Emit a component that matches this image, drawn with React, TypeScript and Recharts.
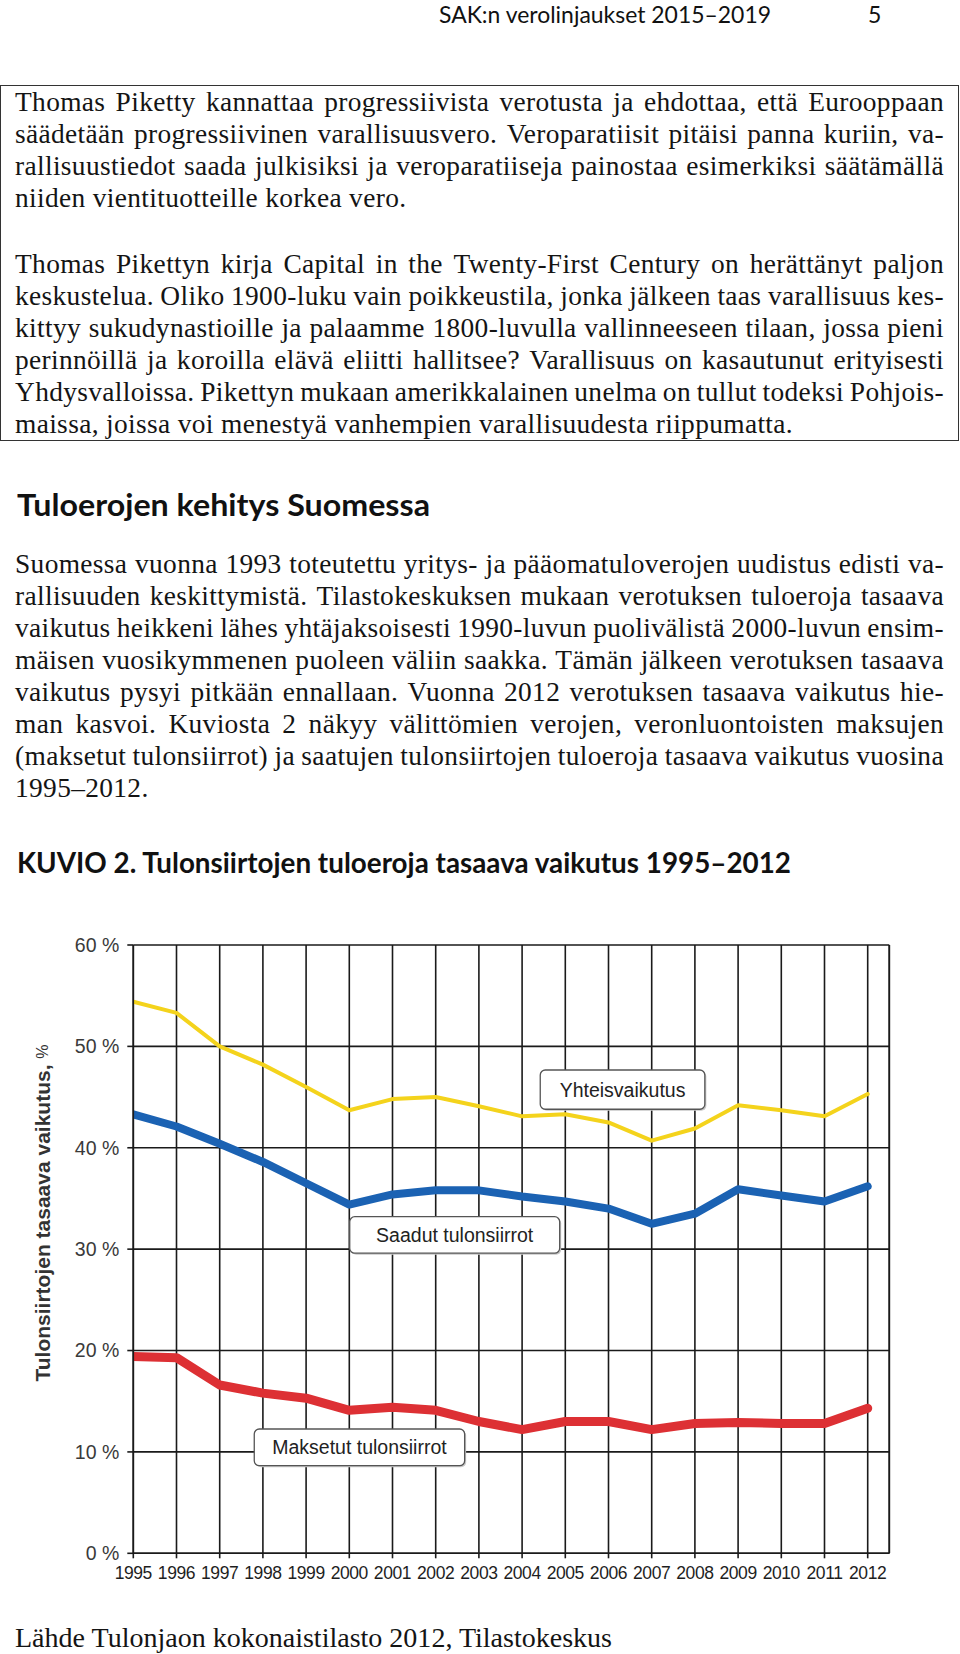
import React, { useLayoutEffect, useRef, useState } from 'react';
import { LineChart, Line, XAxis, YAxis, CartesianGrid, ReferenceLine, ReferenceArea } from 'recharts';

// ---------- data ----------
const years = [1995, 1996, 1997, 1998, 1999, 2000, 2001, 2002, 2003, 2004, 2005, 2006, 2007, 2008, 2009, 2010, 2011, 2012];
const yhteisvaikutus = [54.4, 53.3, 50.0, 48.2, 46.0, 43.7, 44.8, 45.0, 44.1, 43.1, 43.3, 42.5, 40.7, 41.9, 44.2, 43.7, 43.1, 45.3];
const saadutTulonsiirrot = [43.3, 42.1, 40.4, 38.6, 36.5, 34.4, 35.4, 35.8, 35.8, 35.2, 34.7, 34.0, 32.5, 33.5, 35.9, 35.3, 34.7, 36.2];
const maksetutTulonsiirrot = [19.4, 19.3, 16.6, 15.8, 15.3, 14.1, 14.4, 14.1, 13.0, 12.2, 13.0, 13.0, 12.2, 12.8, 12.9, 12.8, 12.8, 14.3];
const yTicks = [0, 10, 20, 30, 40, 50, 60];
const seriesLabels = ['Yhteisvaikutus', 'Saadut tulonsiirrot', 'Maksetut tulonsiirrot'];
const yAxisTitle = 'Tulonsiirtojen tasaava vaikutus, ';

// label boxes in data coordinates
const labelBoxes = [
  { text: seriesLabels[0], x1: 2004.42, x2: 2008.23, y1: 43.8, y2: 47.67 },
  { text: seriesLabels[1], x1: 2000.01, x2: 2004.87, y1: 29.6, y2: 33.2 },
  { text: seriesLabels[2], x1: 1997.8, x2: 2002.67, y1: 8.64, y2: 12.26 },
];

const data = years.map((y, i) => ({
  year: y,
  yht: yhteisvaikutus[i],
  saa: saadutTulonsiirrot[i],
  mak: maksetutTulonsiirrot[i],
}));

// ---------- text ----------
const para1 = [
  'Thomas Piketty kannattaa progressiivista verotusta ja ehdottaa, että Eurooppaan',
  'säädetään progressiivinen varallisuusvero. Veroparatiisit pitäisi panna kuriin, va-',
  'rallisuustiedot saada julkisiksi ja veroparatiiseja painostaa esimerkiksi säätämällä',
  'niiden vientituotteille korkea vero.',
];
const para2 = [
  'Thomas Pikettyn kirja Capital in the Twenty-First Century on herättänyt paljon',
  'keskustelua. Oliko 1900-luku vain poikkeustila, jonka jälkeen taas varallisuus kes-',
  'kittyy sukudynastioille ja palaamme 1800-luvulla vallinneeseen tilaan, jossa pieni',
  'perinnöillä ja koroilla elävä eliitti hallitsee? Varallisuus on kasautunut erityisesti',
  'Yhdysvalloissa. Pikettyn mukaan amerikkalainen unelma on tullut todeksi Pohjois-',
  'maissa, joissa voi menestyä vanhempien varallisuudesta riippumatta.',
];
const para3 = [
  'Suomessa vuonna 1993 toteutettu yritys- ja pääomatuloverojen uudistus edisti va-',
  'rallisuuden keskittymistä. Tilastokeskuksen mukaan verotuksen tuloeroja tasaava',
  'vaikutus heikkeni lähes yhtäjaksoisesti 1990-luvun puolivälistä 2000-luvun ensim-',
  'mäisen vuosikymmenen puoleen väliin saakka. Tämän jälkeen verotuksen tasaava',
  'vaikutus pysyi pitkään ennallaan. Vuonna 2012 verotuksen tasaava vaikutus hie-',
  'man kasvoi. Kuviosta 2 näkyy välittömien verojen, veronluontoisten maksujen',
  '(maksetut tulonsiirrot) ja saatujen tulonsiirtojen tuloeroja tasaava vaikutus vuosina',
  '1995–2012.',
];

const SERIF = '"Liberation Serif", "Times New Roman", serif';
const HEAD = 'Lato, "Open Sans", sans-serif';
const CHARTFONT = '"Liberation Sans", Arial, sans-serif';
const BODY_SIZE = 27.4;
const BODY_LS = 0.35;
const LINE_W = 929;
const LEADING = 32;

function TextLine({ text, baseline, justify }: { text: string; baseline: number; justify: boolean }) {
  const words = text.split(' ');
  const ref = useRef<HTMLDivElement>(null);
  const [ls, setLs] = useState(BODY_LS);
  useLayoutEffect(() => {
    if (!justify || !ref.current) return;
    const spans = Array.from(ref.current.children) as HTMLElement[];
    const total = spans.reduce((s, el) => s + el.getBoundingClientRect().width, 0);
    const minGaps = (words.length - 1) * BODY_SIZE * 0.17;
    const excess = total + minGaps - LINE_W;
    if (excess > 0) {
      const chars = text.replace(/ /g, '').length;
      setLs(BODY_LS - excess / chars);
    }
  }, []);
  return (
    <div
      ref={ref}
      style={{
        position: 'absolute',
        left: 15,
        top: baseline - 0.8375 * BODY_SIZE,
        width: LINE_W,
        height: BODY_SIZE,
        lineHeight: `${BODY_SIZE}px`,
        fontSize: BODY_SIZE,
        fontFamily: SERIF,
        letterSpacing: ls,
        color: '#141414',
        display: 'flex',
        justifyContent: justify ? 'space-between' : 'flex-start',
        whiteSpace: 'pre',
      }}
    >
      {justify ? words.map((w, i) => <span key={i}>{w}</span>) : <span>{text}</span>}
    </div>
  );
}

function Paragraph({ lines, first, step }: { lines: string[]; first: number; step: number }) {
  return (
    <>
      {lines.map((l, i) => (
        <TextLine key={i} text={l} baseline={first + i * step} justify={i < lines.length - 1} />
      ))}
    </>
  );
}

const LabelBox = (props: any) => {
  const { x, y, width, height, text } = props;
  return (
    <g>
      <rect x={x + 1.5} y={y + 1.5} width={width} height={height} rx={5} fill="#c8c8c8" />
      <rect x={x} y={y} width={width} height={height} rx={5} fill="#ffffff" stroke="#555" strokeWidth={1.3} />
      <text
        x={x + width / 2}
        y={y + height / 2}
        textAnchor="middle"
        dominantBaseline="central"
        fontFamily={CHARTFONT}
        fontSize={19.5}
        fill="#222"
      >
        {text}
      </text>
    </g>
  );
};

export default function App() {
  return (
    <div style={{ position: 'absolute', left: 0, top: 0, width: 960, height: 1654, overflow: 'hidden', background: '#fff' }}>
      <svg width={960} height={1654} style={{ position: 'absolute', left: 0, top: 0 }}>
        <text x={439} y={23} fontFamily={HEAD} fontSize={23} fill="#111" textLength={332} lengthAdjust="spacingAndGlyphs">
          SAK:n verolinjaukset 2015–2019
        </text>
        <text x={868} y={23} fontFamily={HEAD} fontSize={23} fill="#111">5</text>
        <text x={17} y={515.7} fontFamily={HEAD} fontSize={30} fontWeight={700} fill="#111" textLength={413} lengthAdjust="spacingAndGlyphs">
          Tuloerojen kehitys Suomessa
        </text>
        <text x={17} y={873.3} fontFamily={HEAD} fontSize={28} fontWeight={700} fill="#111" textLength={774} lengthAdjust="spacingAndGlyphs">
          KUVIO 2. Tulonsiirtojen tuloeroja tasaava vaikutus 1995–2012
        </text>
        <text x={15} y={1646.7} fontFamily={SERIF} fontSize={28} fill="#141414" textLength={597} lengthAdjust="spacingAndGlyphs">
          Lähde Tulonjaon kokonaistilasto 2012, Tilastokeskus
        </text>
      </svg>

      <div
        style={{
          position: 'absolute',
          left: 0,
          top: 85,
          width: 959,
          height: 356,
          border: '1.5px solid #333',
          boxSizing: 'border-box',
        }}
      />

      <Paragraph lines={para1} first={111.7} step={LEADING} />
      <Paragraph lines={para2} first={274} step={LEADING} />
      <Paragraph lines={para3} first={573.5} step={LEADING} />

      <div style={{ position: 'absolute', left: 0, top: 900 }}>
        <LineChart
          width={960}
          height={690}
          data={data}
          margin={{ top: 45, right: 70.7, bottom: 6.7, left: 73.3 }}
        >
          <CartesianGrid stroke="#1a1a1a" strokeWidth={1.6} />
          <XAxis
            dataKey="year"
            type="number"
            domain={[1995, 2012.5]}
            ticks={years}
            interval={0}
            height={30}
            tickSize={5}
            tickMargin={8}
            axisLine={{ stroke: '#1a1a1a', strokeWidth: 1.6 }}
            tickLine={{ stroke: '#1a1a1a', strokeWidth: 1.6 }}
            tick={{ fontSize: 17.5, fill: '#1e1e1e', fontFamily: CHARTFONT, letterSpacing: -0.4 }}
            allowDataOverflow
          />
          <YAxis
            type="number"
            domain={[0, 60]}
            ticks={yTicks}
            interval={0}
            width={60}
            tickSize={6}
            tickMargin={8}
            axisLine={{ stroke: '#1a1a1a', strokeWidth: 1.6 }}
            tickLine={{ stroke: '#1a1a1a', strokeWidth: 1.6 }}
            tick={{ fontSize: 19.5, fill: '#3a3a3a', fontFamily: CHARTFONT }}
            tickFormatter={(v: number) => `${v} %`}
            label={{
              content: () => (
                <text
                  x={41.7}
                  y={313}
                  transform="rotate(-90 41.7 313)"
                  textAnchor="middle"
                  dominantBaseline="central"
                  fontFamily={CHARTFONT}
                  fill="#333"
                >
                  <tspan fontSize={21} fontWeight={700}>{yAxisTitle}</tspan>
                  <tspan fontSize={16}>%</tspan>
                </text>
              ),
            }}
          />
          <ReferenceLine x={2012.5} stroke="#1a1a1a" strokeWidth={1.6} />
          <Line type="linear" dataKey="yht" name={seriesLabels[0]} stroke="#f4d31c" strokeWidth={4} dot={false} activeDot={false} isAnimationActive={false} strokeLinejoin="round" strokeLinecap="round" />
          <Line type="linear" dataKey="saa" name={seriesLabels[1]} stroke="#1b62b3" strokeWidth={8} dot={false} activeDot={false} isAnimationActive={false} strokeLinejoin="round" strokeLinecap="round" />
          <Line type="linear" dataKey="mak" name={seriesLabels[2]} stroke="#dd3034" strokeWidth={9} dot={false} activeDot={false} isAnimationActive={false} strokeLinejoin="round" strokeLinecap="round" />
          {labelBoxes.map((b) => (
            <ReferenceArea
              key={b.text}
              x1={b.x1}
              x2={b.x2}
              y1={b.y1}
              y2={b.y2}
              ifOverflow="visible"
              shape={(p: any) => <LabelBox {...p} text={b.text} />}
            />
          ))}
        </LineChart>
      </div>
    </div>
  );
}
